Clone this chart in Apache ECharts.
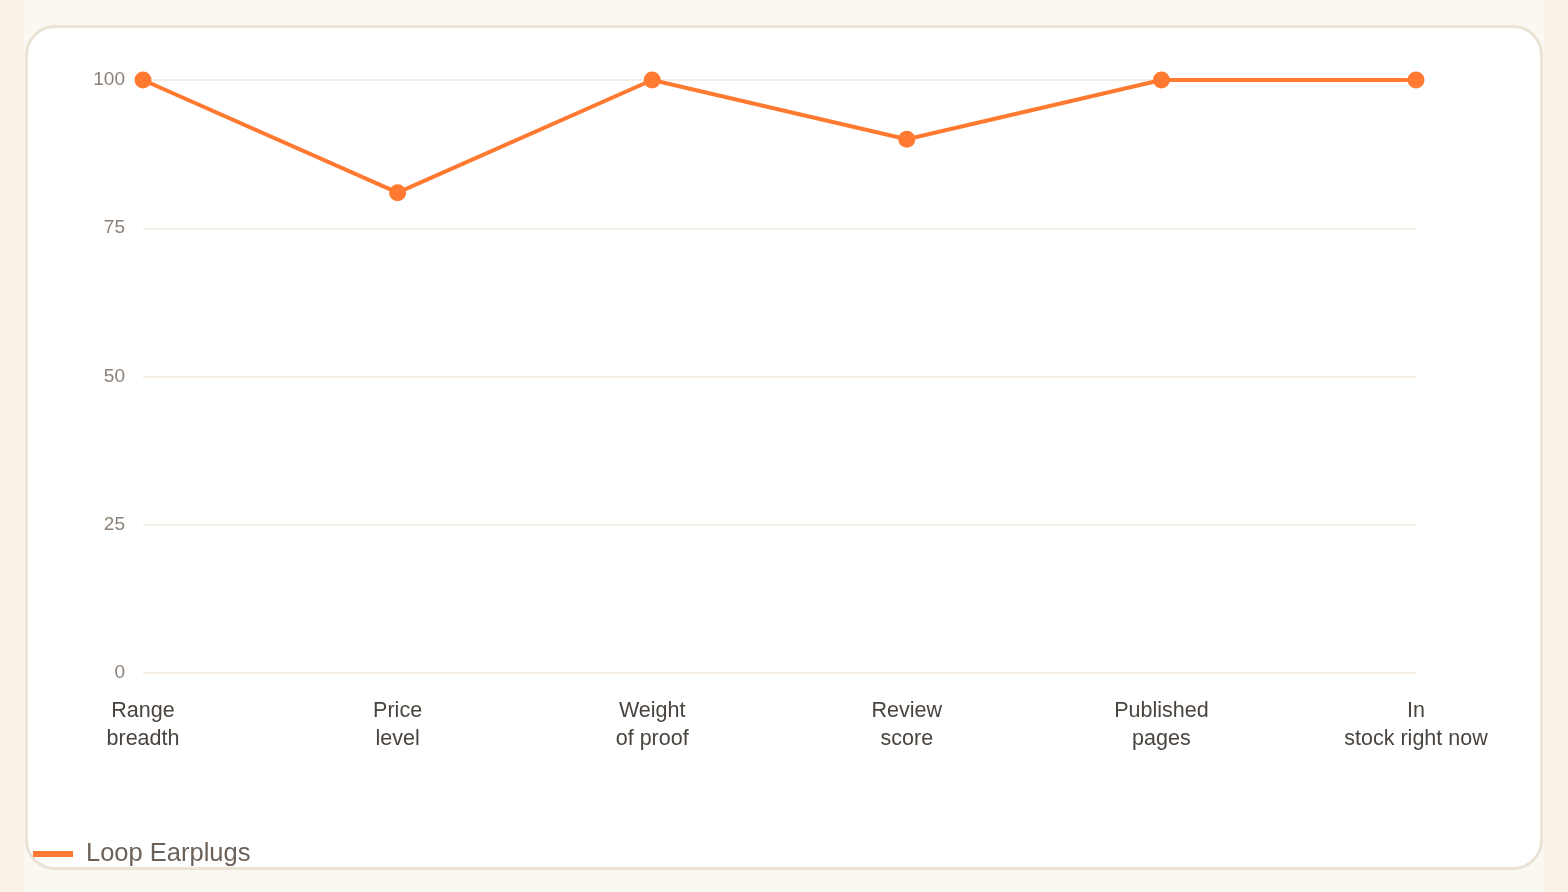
<!DOCTYPE html>
<html>
<head>
<meta charset="utf-8">
<script src="https://cdn.jsdelivr.net/npm/echarts@6/dist/echarts.min.js"></script>
<style>
  html, body { margin: 0; padding: 0; width: 1568px; height: 892px; overflow: hidden; }
  body { background: #f8f1e6; font-family: "Liberation Sans", Arial, sans-serif; }
  .page { position: absolute; left: 24px; top: 0; width: 1520px; height: 892px; background: #fbf8f2; }
  .card {
    position: absolute; left: 25px; top: 25px; width: 1512px; height: 839px;
    background: #fff; border: 3px solid #ece3d5; border-radius: 30px;
  }
  #chart { position: absolute; left: 28px; top: 28px; width: 1512px; height: 839px; }
</style>
</head>
<body>
<div class="page"></div>
<div class="card"></div>
<div id="chart"></div>
<script>
// criteria along the x axis
const categories = [
  'Range\nbreadth',
  'Price\nlevel',
  'Weight\nof proof',
  'Review\nscore',
  'Published\npages',
  'In\nstock right now'
];
const seriesName = 'Loop Earplugs';
const scores = [100, 81, 100, 90, 100, 100];
const yTicks = { min: 0, max: 100, interval: 25 };

const chart = echarts.init(document.getElementById('chart'));

const option = {
  animation: false,
  textStyle: { fontFamily: 'Liberation Sans, Arial, sans-serif' },
  grid: { left: 115, right: 124, top: 52, bottom: 194 },
  legend: {
    left: 0,
    bottom: -5,
    itemWidth: 40,
    itemHeight: 6,
    itemGap: 12,
    icon: 'rect',
    textStyle: { fontSize: 25.5, color: '#6b6158', padding: [0, 0, 0, 8] },
    data: [{ name: seriesName, icon: 'rect' }]
  },
  xAxis: {
    type: 'category',
    data: categories,
    boundaryGap: false,
    axisLine: { show: false },
    axisTick: { show: false },
    axisLabel: { fontSize: 21.5, lineHeight: 28, color: '#4a443f', margin: 24, interval: 0 }
  },
  yAxis: {
    type: 'value',
    min: yTicks.min,
    max: yTicks.max,
    interval: yTicks.interval,
    axisLine: { show: false },
    axisTick: { show: false },
    axisLabel: { fontSize: 19, color: '#8b8178', margin: 18, padding: [5, 0, 0, 0] },
    splitLine: { lineStyle: { color: '#f4ede3', width: 2 } }
  },
  series: [
    {
      name: seriesName,
      type: 'line',
      data: scores,
      symbol: 'circle',
      symbolSize: 17,
      itemStyle: { color: '#ff7a30' },
      lineStyle: { color: '#ff7a30', width: 4 }
    }
  ]
};

chart.setOption(option);
</script>
</body>
</html>
